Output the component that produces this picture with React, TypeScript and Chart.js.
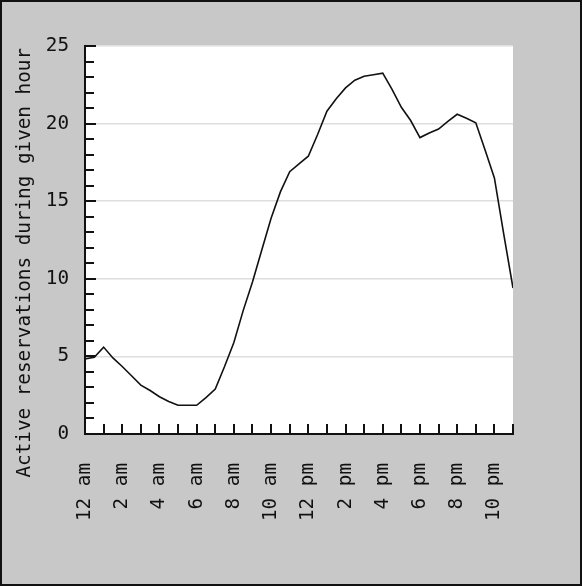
import React, { useEffect, useRef } from 'react';
import Chart, { ChartConfiguration, Plugin } from 'chart.js/auto';

// time of day in hours (0 = midnight), sampled every half hour
const hours = [
    0, 0.5, 1, 1.5, 2, 2.5, 3, 3.5, 4, 4.5, 5, 5.5, 6, 6.5, 7, 7.5, 8, 8.5, 9, 9.5, 10, 10.5, 11, 11.5,
    12, 12.5, 13, 13.5, 14, 14.5, 15, 15.5, 16, 16.5, 17, 17.5, 18, 18.5, 19, 19.5, 20, 20.5, 21, 21.5,
    22, 22.5, 23,
];

const activeReservations = [
    4.84, 4.95, 5.6, 4.9, 4.35, 3.75, 3.15, 2.8, 2.4, 2.1, 1.85, 1.85, 1.85, 2.35, 2.9, 4.35, 5.9, 7.95,
    9.8, 11.85, 13.9, 15.6, 16.9, 17.4, 17.9, 19.3, 20.8, 21.6, 22.3, 22.8, 23.05, 23.15, 23.25, 22.2,
    21.05, 20.2, 19.1, 19.4, 19.65, 20.15, 20.6, 20.35, 20.05, 18.3, 16.5, 12.9, 9.4,
];

// one label per hour tick, every other one shown
const xTickLabels = [
    '12 am', '', '2 am', '', '4 am', '', '6 am', '', '8 am', '', '10 am', '',
    '12 pm', '', '2 pm', '', '4 pm', '', '6 pm', '', '8 pm', '', '10 pm', '',
];

const yTitle = 'Active reservations during given hour';
const monoFont = '"DejaVu Sans Mono", monospace';
const fontSize = 19.3;

// white plot area, inward tick marks and the long axis title
const framePlugin: Plugin<'line'> = {
    id: 'frame',
    beforeDraw(chart) {
        const { ctx, chartArea: a } = chart;
        ctx.save();
        ctx.fillStyle = '#ffffff';
        ctx.fillRect(a.left, a.top, a.right - a.left, a.bottom - a.top);
        ctx.restore();
    },
    afterDatasetsDraw(chart) {
        const { ctx, chartArea: a, scales } = chart;
        const xs = scales.x;
        const ys = scales.y;
        ctx.save();
        ctx.strokeStyle = '#111111';
        ctx.lineWidth = 2;
        ctx.beginPath();
        for (let v = ys.min; v <= ys.max; v++) {
            const y = Math.round(ys.getPixelForValue(v));
            const len = v % 5 === 0 ? 11 : 9;
            ctx.moveTo(a.left, y);
            ctx.lineTo(a.left + len, y);
        }
        for (let h = xs.min; h <= xs.max; h++) {
            const x = Math.round(xs.getPixelForValue(h));
            ctx.moveTo(x, a.bottom);
            ctx.lineTo(x, a.bottom - 10);
        }
        ctx.stroke();

        // title is longer than the axis, so Chart.js would squeeze it
        ctx.translate(23, a.top + 2);
        ctx.rotate(-Math.PI / 2);
        ctx.fillStyle = '#111111';
        ctx.font = `${fontSize}px ${monoFont}`;
        ctx.textAlign = 'right';
        ctx.textBaseline = 'middle';
        ctx.fillText(yTitle, 0, 0);
        ctx.restore();
    },
};

const App: React.FC = () => {
    const chartRef = useRef<HTMLCanvasElement | null>(null);
    const chartInstance = useRef<Chart<'line'> | null>(null);

    useEffect(() => {
        if (!chartRef.current) return;
        const ctx = chartRef.current.getContext('2d');
        if (!ctx) return;

        if (chartInstance.current) {
            chartInstance.current.destroy();
        }

        const config: ChartConfiguration<'line', { x: number; y: number }[]> = {
            type: 'line',
            data: {
                datasets: [
                    {
                        data: hours.map((h, i) => ({ x: h, y: activeReservations[i] })),
                        borderColor: '#111111',
                        borderWidth: 1.6,
                        pointRadius: 0,
                        tension: 0,
                        fill: false,
                    },
                ],
            },
            options: {
                animation: false,
                responsive: false,
                devicePixelRatio: 1,
                layout: { padding: { top: 44, right: 67, left: 0, bottom: 0 } },
                plugins: {
                    legend: { display: false },
                    tooltip: { enabled: false },
                },
                scales: {
                    x: {
                        type: 'linear',
                        min: 0,
                        max: 23,
                        afterFit: (scale) => {
                            scale.height = 150;
                        },
                        border: { display: true, color: '#111111', width: 2 },
                        grid: { display: false, drawTicks: false },
                        ticks: {
                            stepSize: 1,
                            autoSkip: false,
                            minRotation: 90,
                            maxRotation: 90,
                            padding: 29,
                            color: '#111111',
                            font: { family: monoFont, size: fontSize },
                            callback: (value) => xTickLabels[Number(value)] ?? '',
                        },
                    },
                    y: {
                        min: 0,
                        max: 25,
                        afterFit: (scale) => {
                            scale.width = 83;
                        },
                        border: { display: true, color: '#111111', width: 2 },
                        grid: {
                            drawTicks: false,
                            color: '#dedede',
                            lineWidth: 1.5,
                        },
                        ticks: {
                            stepSize: 5,
                            padding: 16,
                            color: '#111111',
                            font: { family: monoFont, size: fontSize },
                        },
                    },
                },
            },
            plugins: [framePlugin],
        };

        chartInstance.current = new Chart(ctx, config);

        return () => {
            if (chartInstance.current) {
                chartInstance.current.destroy();
                chartInstance.current = null;
            }
        };
    }, []);

    return (
        <div
            style={{
                position: 'absolute',
                top: 0,
                left: 0,
                width: 582,
                height: 586,
                boxSizing: 'border-box',
                border: '2px solid #111',
                background: '#c8c8c8',
            }}
        >
            <canvas ref={chartRef} width={578} height={582} style={{ display: 'block' }}></canvas>
        </div>
    );
};

export default App;
